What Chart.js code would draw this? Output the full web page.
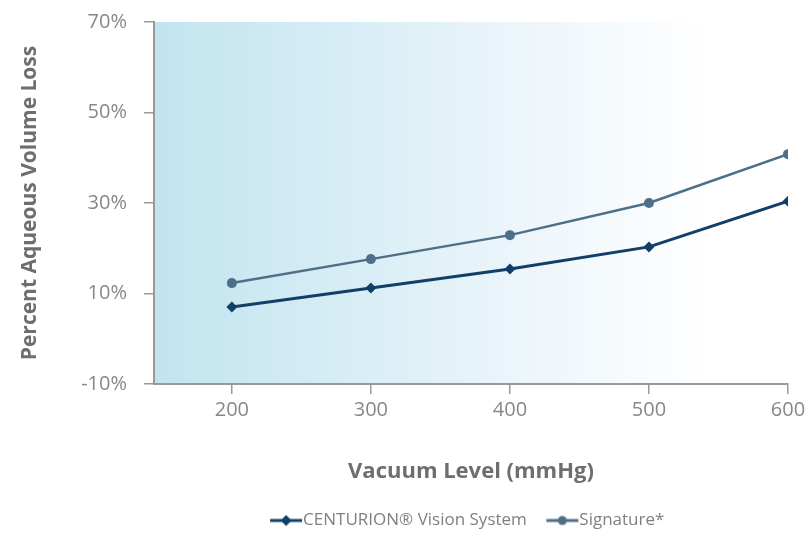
<!DOCTYPE html>
<html>
<head>
<meta charset="utf-8">
<script src="https://cdn.jsdelivr.net/npm/chart.js@4/dist/chart.umd.min.js"></script>
<style>
html,body{margin:0;padding:0;background:#fff;}
#wrap{width:810px;height:533px;position:relative;overflow:hidden;}
</style>
</head>
<body>
<div id="wrap"><canvas id="c" width="810" height="533"></canvas></div>
<script>
const vacuumLevels = [200, 300, 400, 500, 600];
const centurionLoss = [7.0, 11.2, 15.4, 20.3, 30.4];
const signatureLoss = [12.3, 17.6, 22.9, 30.0, 40.8];
const yTicks = [-10, 10, 30, 50, 70];
const seriesNames = ['CENTURION\u00AE Vision System', 'Signature*'];

const C1 = '#123f68';
const C2 = '#4d6f88';

function legendIcon(color, style) {
  const cv = document.createElement('canvas');
  cv.width = 34; cv.height = 12;
  const g = cv.getContext('2d');
  g.strokeStyle = color; g.lineWidth = 3;
  g.beginPath(); g.moveTo(1, 6); g.lineTo(33, 6); g.stroke();
  g.fillStyle = color;
  g.beginPath();
  if (style === 'diamond') {
    g.moveTo(17, 0.5); g.lineTo(22.5, 6); g.lineTo(17, 11.5); g.lineTo(11.5, 6); g.closePath();
  } else {
    g.arc(17, 6, 4.5, 0, Math.PI * 2);
  }
  g.fill();
  return cv;
}

const bgPlugin = {
  id: 'bg',
  beforeDraw(chart) {
    const a = chart.chartArea, ctx = chart.ctx;
    const gr = ctx.createLinearGradient(a.left, 0, a.right, 0);
    gr.addColorStop(0, 'rgb(194,228,239)');
    gr.addColorStop(0.3, 'rgb(215,237,245)');
    gr.addColorStop(0.6, 'rgb(238,246,251)');
    gr.addColorStop(0.88, 'rgb(255,255,255)');
    gr.addColorStop(1, 'rgb(255,255,255)');
    ctx.save();
    ctx.fillStyle = gr;
    ctx.fillRect(a.left, a.top, a.right - a.left, a.bottom - a.top);
    ctx.restore();
  }
};

new Chart(document.getElementById('c'), {
  type: 'line',
  data: {
    datasets: [
      {
        label: seriesNames[0],
        data: vacuumLevels.map((x, i) => ({x: x, y: centurionLoss[i]})),
        borderColor: C1, backgroundColor: C1,
        borderWidth: 3, pointStyle: 'rectRot', pointRadius: 5.5,
        pointBorderWidth: 0, tension: 0
      },
      {
        label: seriesNames[1],
        data: vacuumLevels.map((x, i) => ({x: x, y: signatureLoss[i]})),
        borderColor: C2, backgroundColor: C2,
        borderWidth: 2.5, pointStyle: 'circle', pointRadius: 5,
        pointBorderWidth: 0, tension: 0
      }
    ]
  },
  options: {
    responsive: false,
    animation: false,
    devicePixelRatio: 1,
    layout: { padding: { left: 0, right: 22, top: 22, bottom: -6 } },
    plugins: {
      tooltip: { enabled: false },
      legend: {
        position: 'bottom',
        fullSize: false,
        labels: {
          color: '#808080',
          font: { family: 'Open Sans', size: 17 },
          boxWidth: 34, boxHeight: 12, padding: 27,
          usePointStyle: true,
          generateLabels(chart) {
            return chart.data.datasets.map((d, i) => ({
              text: d.label,
              pointStyle: legendIcon(d.borderColor, i === 0 ? 'diamond' : 'circle'),
              fillStyle: d.borderColor, strokeStyle: d.borderColor,
              lineWidth: 0, hidden: false, datasetIndex: i, fontColor: '#808080'
            }));
          }
        }
      }
    },
    scales: {
      x: {
        type: 'linear',
        min: 144, max: 600,
        afterBuildTicks(scale) { scale.ticks = vacuumLevels.map(v => ({value: v})); },
        afterFit(scale) { scale.height = 101; },
        grid: { drawOnChartArea: false, tickLength: 10, color: '#999', lineWidth: 1.5 },
        border: { color: '#999', width: 2 },
        ticks: { color: '#888', font: { family: 'Open Sans', size: 20 }, padding: 4, maxRotation: 0 },
        title: {
          display: true, text: 'Vacuum Level (mmHg)', color: '#6e6e6e',
          font: { family: 'Open Sans', size: 22, weight: 'bold' },
          padding: { top: 30, bottom: 0 }
        }
      },
      y: {
        min: -10, max: 70,
        afterBuildTicks(scale) { scale.ticks = yTicks.map(v => ({value: v})); },
        afterFit(scale) { scale.width = 154; scale.paddingTop = 0; scale.paddingBottom = 0; },
        grid: { drawOnChartArea: false, tickLength: 10, color: '#999', lineWidth: 1.5 },
        border: { color: '#999', width: 2 },
        ticks: { color: '#888', font: { family: 'Open Sans', size: 20 }, padding: 17, callback: v => v + '%' },
        title: {
          display: true, text: 'Percent Aqueous Volume Loss', color: '#6e6e6e',
          font: { family: 'Open Sans', size: 21, weight: 'bold' },
          padding: { top: 17, bottom: 0 }
        }
      }
    }
  },
  plugins: [bgPlugin]
});
</script>
</body>
</html>
